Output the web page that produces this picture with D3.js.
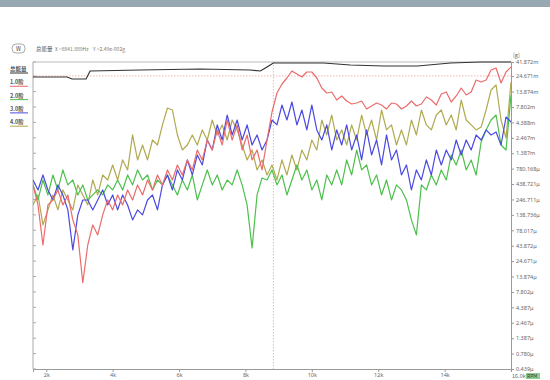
<!DOCTYPE html>
<html><head><meta charset="utf-8">
<script src="https://cdn.jsdelivr.net/npm/d3@7"></script>
<style>body{margin:0;background:#fff;} svg{display:block;font-family:"Noto Sans CJK SC","Noto Sans",sans-serif;}</style>
</head><body><svg id="c" width="550" height="380"></svg>
<script>
// ---- data (x: RPM, y: amplitude in micro-g) ----
const rpmGrid = d3.range(1600, 16001, 150);
const order1 = [425,201,45.1,201,242,352,201,292,115,65.6,11.0,45.1,95.3,65.6,139,242,167,292,201,352,242,425,292,511,352,616,425,743,511,895,616,1079,743,1565,1079,2275,1565,3310,1886,4800,2275,3990,1565,2745,1079,1565,743,2275,6470,13160,18410,23030,29920,26750,23910,28820,28820,23030,15850,13160,13660,10130,11770,9760,8720,9050,9760,7240,8100,9050,8400,7240,9050,8720,7240,8100,9760,8100,8720,11330,10130,8400,12680,13660,9400,11770,15850,12210,13660,21380,19840,21380,31060,33460,19110,28820,34740];
const order2 = [425,242,511,292,616,352,743,425,511,292,425,242,292,352,292,425,352,511,352,616,425,743,511,616,352,511,425,616,425,292,511,352,616,242,425,743,425,616,352,511,425,743,425,201,40.4,292,551,511,743,425,616,292,511,895,511,743,352,511,242,616,425,743,425,1079,616,1565,743,895,425,616,292,511,242,425,352,242,115,65.6,425,352,616,425,743,511,1300,895,1565,743,1079,616,2110,3310,4800,5780,1886,1565,12210];
const order3 = [511,352,616,352,242,425,292,167,37.5,139,242,242,167,242,352,201,292,167,292,201,115,167,139,242,292,167,425,616,352,743,511,1079,616,1300,895,2275,1565,3990,2275,5780,2745,4800,2275,3990,1886,2745,1565,2275,4800,3990,8400,4800,9400,3990,6970,3310,8400,3310,2275,3990,1565,3310,1886,3990,1565,2745,1079,3310,1300,2275,895,2745,1079,1565,616,895,352,743,511,1079,616,1565,895,1565,1079,2275,1300,2275,1565,2745,2275,3310,2745,3070,1886,5370,4460];
const order4 = [201,292,95.3,167,292,167,352,242,167,425,292,201,511,292,616,511,895,511,1079,743,2745,1079,1886,1079,2275,1886,3990,7510,6970,2745,1565,1886,2745,1886,3310,2275,4800,2745,3990,2275,4800,3310,1886,1079,1565,743,1079,616,895,511,1079,616,1300,743,1565,1079,2275,1565,4800,2745,5780,2275,3310,1886,3990,2275,5780,2745,4800,2275,6970,3310,3990,1886,3310,1886,4800,2745,6970,3990,3310,5780,6970,3990,5780,3310,10130,4800,3990,3310,3700,6970,14720,17740,4800,2450,19840];
const totalRpm = [1600,2626,2777,3199,3320,4828,6638,8147,8449,8600,8841,10349,11164,12160,13185,14181,15086,16000];
const totalVal = [23910,23910,22190,22190,29920,31060,32240,31060,29920,33460,40330,40330,37430,36050,36050,40330,41870,41870];
const cursorX = 8841.889, cursorY = 2.49e-2;
const xTickValues = [2000,4000,6000,8000,10000,12000,14000];
const xTickLabels = ["2k","4k","6k","8k","10k","12k","14k"];
const yTickValues = [41.872e-3,24.671e-3,13.874e-3,7.802e-3,4.388e-3,2.467e-3,1.387e-3,780.168e-6,438.721e-6,246.711e-6,138.736e-6,78.017e-6,43.872e-6,24.671e-6,13.874e-6,7.802e-6,4.387e-6,2.467e-6,1.387e-6,0.780e-6,0.439e-6];
const yTickLabels = ["41.872m","24.671m","13.874m","7.802m","4.388m","2.467m","1.387m","780.168μ","438.721μ","246.711μ","138.736μ","78.017μ","43.872μ","24.671μ","13.874μ","7.802μ","4.387μ","2.467μ","1.387μ","0.780μ","0.439μ"];
const legendNames = ["总能量","1.0阶","2.0阶","3.0阶","4.0阶"];
const colors = ["#333333","#ec6b6b","#4cc04c","#4a4ae0","#b0aa50"];
const UG = 1e-6;

// ---- drawing ----
const svg = d3.select("#c");
const L = 33, R = 511, T = 62, B = 369;
svg.append("rect").attr("x",0).attr("y",0).attr("width",550).attr("height",7).attr("fill","#98a8b3");

const x = d3.scaleLinear().domain([1600,16000]).range([L,R]);
const y = d3.scaleLog().domain([0.4387e-6, 41.872e-3]).range([B,T]);

svg.append("clipPath").attr("id","clip").append("rect").attr("x",L).attr("y",T-1).attr("width",R-L).attr("height",B-T+1);

// frame
svg.append("line").attr("x1",L).attr("x2",R).attr("y1",T).attr("y2",T).attr("stroke","#bbb").attr("stroke-width",1);
svg.append("line").attr("x1",L).attr("x2",L).attr("y1",T).attr("y2",B).attr("stroke","#aaa").attr("stroke-width",1);

// left inner ticks
svg.append("g").selectAll("line").data(yTickValues).join("line")
  .attr("x1",L).attr("x2",L+3).attr("y1",d=>y(d)).attr("y2",d=>y(d)).attr("stroke","#aaa");

// cursor
svg.append("line").attr("x1",x(cursorX)).attr("x2",x(cursorX)).attr("y1",T).attr("y2",B)
  .attr("stroke","#f2a0a0").attr("stroke-width",0.8).attr("stroke-dasharray","1.5,1.5");
svg.append("line").attr("x1",L).attr("x2",R).attr("y1",y(cursorY)).attr("y2",y(cursorY))
  .attr("stroke","#f2a0a0").attr("stroke-width",0.8).attr("stroke-dasharray","1.5,1.5");

const line = d3.line().x(d=>x(d[0])).y(d=>y(d[1]*UG));
const gLines = svg.append("g").attr("clip-path","url(#clip)");
const series = [order4, order2, order3, order1];
const sColors = [colors[4], colors[2], colors[3], colors[1]];
series.forEach((s,i)=>{
  gLines.append("path").datum(rpmGrid.map((r,j)=>[r,s[j]]))
    .attr("d",line).attr("fill","none").attr("stroke",sColors[i]).attr("stroke-width",1.2).attr("stroke-linejoin","round");
});
gLines.append("path").datum(totalRpm.map((r,j)=>[r,totalVal[j]]))
  .attr("d",line).attr("fill","none").attr("stroke",colors[0]).attr("stroke-width",1.2);

// right axis
const ra = svg.append("g").attr("transform",`translate(${R},0)`)
  .call(d3.axisRight(y).tickValues(yTickValues).tickFormat((d,i)=>yTickLabels[i]).tickSize(3).tickPadding(2));
ra.select(".domain").attr("stroke","#999");
ra.selectAll(".tick line").attr("stroke","#999");
ra.selectAll("text").attr("font-size",5.5).attr("fill","#666").attr("font-family","'Noto Sans',sans-serif");
svg.append("text").attr("x",R+2).attr("y",T-5).attr("font-size",5.5).attr("fill","#666").text("[g]");

// bottom axis
const ba = svg.append("g").attr("transform",`translate(0,${B})`)
  .call(d3.axisBottom(x).tickValues(xTickValues).tickFormat((d,i)=>xTickLabels[i]).tickSize(3).tickPadding(1));
ba.select(".domain").attr("stroke","#999");
ba.selectAll(".tick line").attr("stroke","#999");
ba.selectAll("text").attr("font-size",5.5).attr("fill","#666").attr("font-family","'Noto Sans',sans-serif");
svg.append("text").attr("x",R+1).attr("y",B+9).attr("font-size",5.5).attr("fill","#666").text("16.0k");
svg.append("rect").attr("x",R+15).attr("y",B+4).attr("width",14).attr("height",6).attr("fill","#8fcf8f");
svg.append("text").attr("x",R+16).attr("y",B+9).attr("font-size",5).attr("fill","#333").text("RPM");

// header
svg.append("rect").attr("x",12).attr("y",44).attr("width",13).attr("height",9).attr("rx",4).attr("fill","#fff").attr("stroke","#888").attr("stroke-width",0.7);
svg.append("text").attr("x",18.5).attr("y",51).attr("text-anchor","middle").attr("font-size",5.5).attr("fill","#444").text("W");
svg.append("text").attr("x",36).attr("y",51).attr("font-size",5.5).attr("fill","#555").text(legendNames[0]);
svg.append("text").attr("x",55).attr("y",51).attr("font-size",5).attr("fill","#777").text("X =8841.889Hz");
svg.append("text").attr("x",93).attr("y",51).attr("font-size",5).attr("fill","#777").text("Y =2.49e-002g");

// legend
legendNames.forEach((n,i)=>{
  const yy = 71 + i*13.3;
  svg.append("text").attr("x",10).attr("y",yy).attr("font-size",5.5).attr("font-weight","bold").attr("fill","#555").text(n);
  svg.append("line").attr("x1",10).attr("x2",28).attr("y1",yy+2).attr("y2",yy+2).attr("stroke",colors[i]).attr("stroke-width",1);
});
</script></body></html>
